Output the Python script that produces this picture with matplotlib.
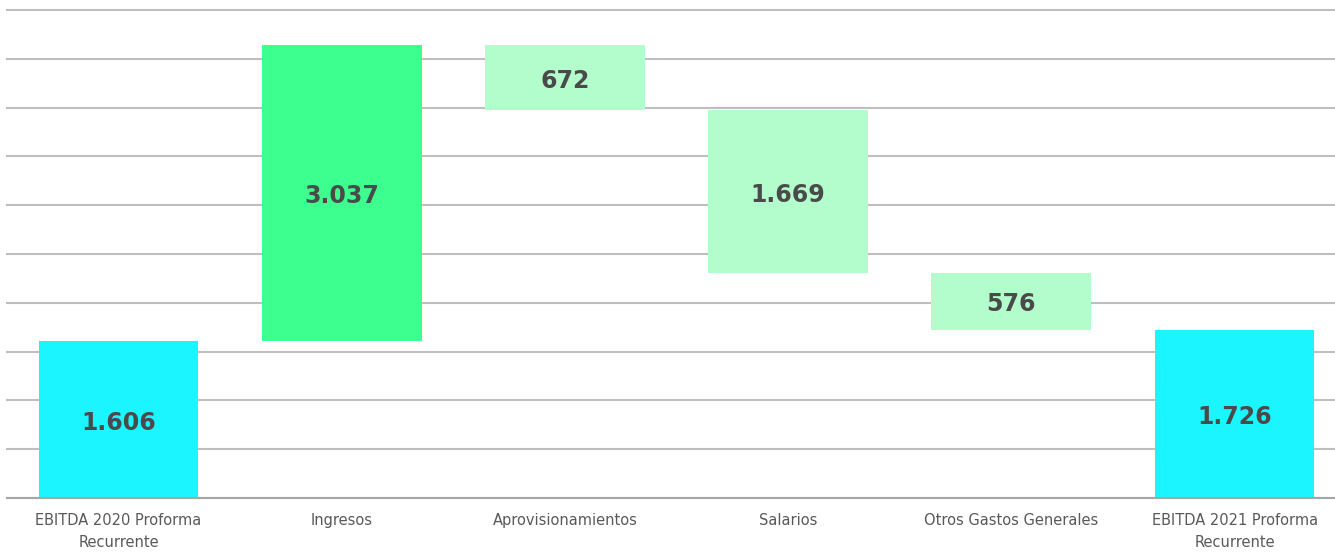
import matplotlib
matplotlib.use("Agg")
import matplotlib.pyplot as plt
import numpy as np

categories = ["EBITDA 2020 Proforma\nRecurrente", "Ingresos", "Aprovisionamientos",
              "Salarios", "Otros Gastos Generales", "EBITDA 2021 Proforma\nRecurrente"]
changes = [1606, 3037, -672, -1669, -576, 1726]
kinds = ["total", "up", "down", "down", "down", "total"]
labels = ["1.606", "3.037", "672", "1.669", "576", "1.726"]

colors = {"total": "#1AF5FF", "up": "#3DFF8F", "down": "#B3FCCB"}

bottoms, heights = [], []
running = 0
for v, k in zip(changes, kinds):
    if k == "total":
        bottoms.append(0); heights.append(v); running = v
    elif k == "up":
        bottoms.append(running); heights.append(v); running += v
    else:
        running += v
        bottoms.append(running); heights.append(-v)

fig = plt.figure(figsize=(13.35, 5.52), dpi=100)
ax = fig.add_axes([7/1335, 54/552, 1 - 7/1335, 488/552])
x = np.arange(len(categories))
ax.bar(x, heights, bottom=bottoms, width=0.716,
       color=[colors[k] for k in kinds], zorder=3)
for xi, b, h, t in zip(x, bottoms, heights, labels):
    ax.annotate(t, (xi, b + h/2), xytext=(0, -2.2), textcoords="offset points",
                ha="center", va="center", fontsize=17,
                fontweight="bold", color="#4A4A4A", zorder=4)

ax.set_xlim(-0.5, 5.45)
ax.set_ylim(0, 5000)
ax.set_yticks(np.arange(0, 5001, 500))
ax.yaxis.grid(True, color="#BFBFBF", linewidth=1.5, zorder=0)
for gl in ax.get_ygridlines():
    gl.set_clip_on(False)
ax.set_yticklabels([])
ax.tick_params(axis="y", length=0)
ax.set_xticks(x)
ax.set_xticklabels(categories, fontsize=10.5, color="#595959", linespacing=1.6)
ax.tick_params(axis="x", length=0, pad=11)
for s in ["top", "right", "left"]:
    ax.spines[s].set_visible(False)
ax.spines["bottom"].set_color("#A6A6A6")
ax.spines["bottom"].set_linewidth(1.5)
ax.spines["bottom"].set_zorder(5)

fig.savefig("out.png", dpi=100)
